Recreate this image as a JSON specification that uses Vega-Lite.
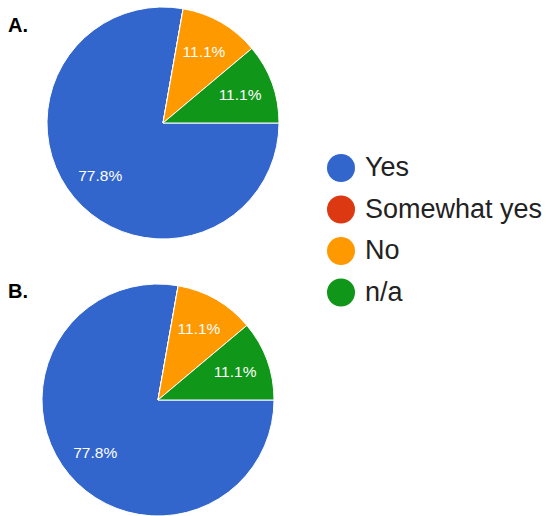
{
  "$schema": "https://vega.github.io/schema/vega-lite/v6.json",
  "padding": 0,
  "autosize": {"type": "pad"},
  "background": "#ffffff",
  "datasets": {
    "pies": [
      {"chart": "A", "answer": "Yes", "value": 7, "pct": 0.7778, "k": 1},
      {"chart": "A", "answer": "Somewhat yes", "value": 0, "pct": 0, "k": 2},
      {"chart": "A", "answer": "No", "value": 1, "pct": 0.1111, "k": 3},
      {"chart": "A", "answer": "n/a", "value": 1, "pct": 0.1111, "k": 4},
      {"chart": "B", "answer": "Yes", "value": 7, "pct": 0.7778, "k": 1},
      {"chart": "B", "answer": "Somewhat yes", "value": 0, "pct": 0, "k": 2},
      {"chart": "B", "answer": "No", "value": 1, "pct": 0.1111, "k": 3},
      {"chart": "B", "answer": "n/a", "value": 1, "pct": 0.1111, "k": 4}
    ]
  },
  "spacing": 36,
  "vconcat": [
    {
      "title": {"text": "A.", "anchor": "start", "frame": "group", "baseline": "alphabetic", "offset": -52, "dx": 8, "fontSize": 20, "fontWeight": "bold", "font": "Liberation Sans", "color": "#000000"},
      "width": 326,
      "height": 246,
      "data": {"name": "pies"},
      "transform": [{"filter": "datum.chart === 'A'"}],
      "encoding": {
        "theta": {"field": "value", "type": "quantitative", "stack": true, "scale": {"range": [1.5708, 7.854]}},
        "order": {"field": "k", "type": "quantitative"}
      },
      "layer": [
        {
          "mark": {"type": "arc", "outerRadius": 116, "stroke": "#ffffff", "strokeWidth": 1},
          "encoding": {
            "color": {"field": "answer", "type": "nominal", "sort": ["Yes", "Somewhat yes", "No", "n/a"],
              "scale": {"domain": ["Yes", "Somewhat yes", "No", "n/a"], "range": ["#3366cc", "#dc3912", "#ff9900", "#109618"]},
              "legend": {"title": null, "orient": "none", "legendX": 327, "legendY": 154, "symbolType": "circle", "symbolSize": 784, "symbolStrokeWidth": 0, "labelFontSize": 27, "labelFont": "Liberation Sans", "labelColor": "#222222", "labelLimit": 400, "rowPadding": 13.5, "labelOffset": 10, "padding": 0}}
          }
        },
        {
          "transform": [{"filter": "datum.value > 0"}],
          "mark": {"type": "text", "radius": 82, "fill": "#ffffff", "fontSize": 15.5, "font": "Liberation Sans"},
          "encoding": {"text": {"field": "pct", "type": "quantitative", "format": ".1%"}}
        }
      ]
    },
    {
      "title": {"text": "B.", "anchor": "start", "frame": "group", "baseline": "alphabetic", "offset": -36, "dx": 8, "fontSize": 20, "fontWeight": "bold", "font": "Liberation Sans", "color": "#000000"},
      "width": 316,
      "height": 232,
      "data": {"name": "pies"},
      "transform": [{"filter": "datum.chart === 'B'"}],
      "encoding": {
        "theta": {"field": "value", "type": "quantitative", "stack": true, "scale": {"range": [1.5708, 7.854]}},
        "order": {"field": "k", "type": "quantitative"}
      },
      "layer": [
        {
          "mark": {"type": "arc", "outerRadius": 116, "stroke": "#ffffff", "strokeWidth": 1},
          "encoding": {
            "color": {"field": "answer", "type": "nominal", "sort": ["Yes", "Somewhat yes", "No", "n/a"],
              "scale": {"domain": ["Yes", "Somewhat yes", "No", "n/a"], "range": ["#3366cc", "#dc3912", "#ff9900", "#109618"]}}
          }
        },
        {
          "transform": [{"filter": "datum.value > 0"}],
          "mark": {"type": "text", "radius": 82, "fill": "#ffffff", "fontSize": 15.5, "font": "Liberation Sans"},
          "encoding": {"text": {"field": "pct", "type": "quantitative", "format": ".1%"}}
        }
      ]
    }
  ],
  "config": {"view": {"stroke": null}}
}
